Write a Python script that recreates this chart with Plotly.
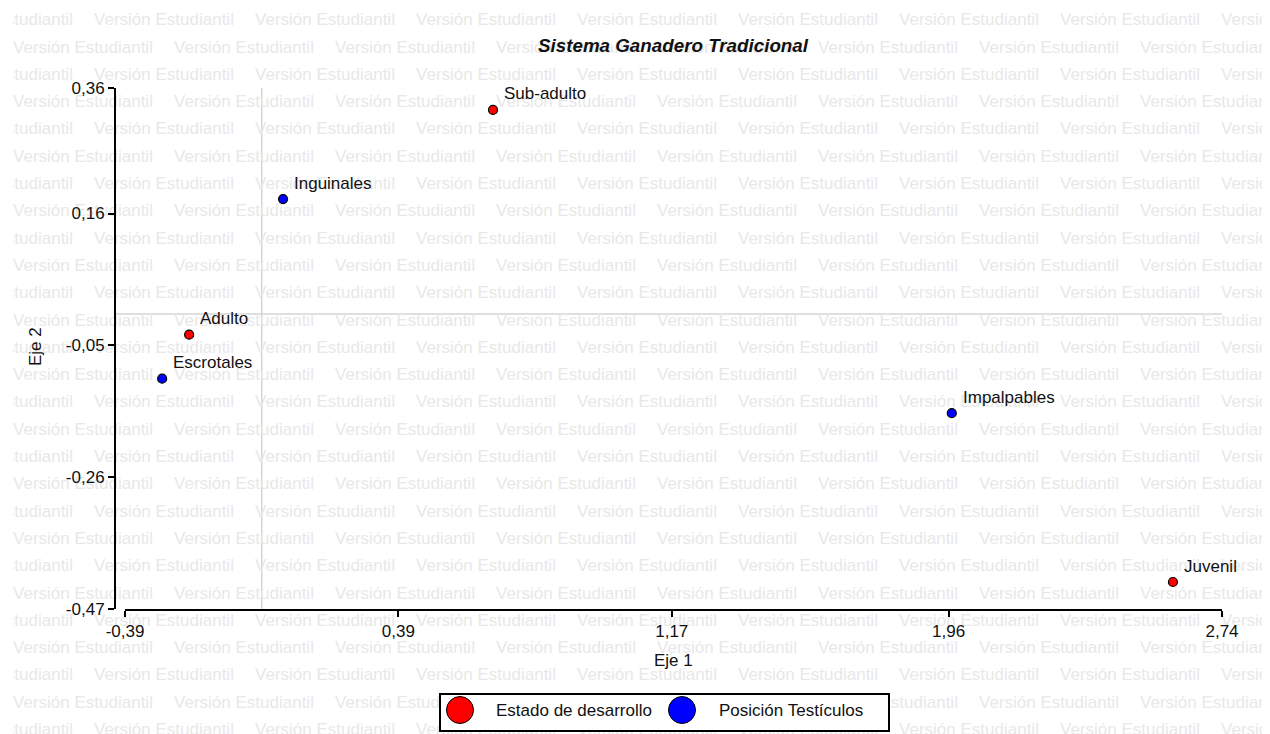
import plotly.graph_objects as go

# the page places the figure 8px in from the top-left corner
OFF = 8
W, H = 1270 - OFF, 734 - OFF

# correspondence analysis coordinates
estado_names = ["Sub-adulto", "Adulto", "Juvenil"]
estado_x = [0.66, -0.207, 2.60]
estado_y = [0.325, -0.033, -0.427]

posicion_names = ["Inguinales", "Escrotales", "Impalpables"]
posicion_x = [0.061, -0.284, 1.969]
posicion_y = [0.183, -0.103, -0.158]

x_ticks = [-0.39, 0.39, 1.17, 1.96, 2.74]
x_ticktext = ["-0,39", "0,39", "1,17", "1,96", "2,74"]
y_ticks = [-0.47, -0.26, -0.05, 0.16, 0.36]
y_ticktext = ["-0,47", "-0,26", "-0,05", "0,16", "0,36"]

series_names = ["Estado de desarrollo", "Posición Testículos"]
series_colors = ["#ff0000", "#0000ff"]

FONT = "Liberation Sans, Arial, sans-serif"
WM_TEXT = "Versión Estudiantil"
WM_LEFT = 13


def px(x):
    return (x - OFF) / W


def py(y):
    return 1 - (y - OFF) / H


# background watermark, placed in screen pixels on a full-figure subplot
wm_x, wm_y = [], []
for k in range(27):
    yy = 21 + 27.3 * k
    start = -67 if k % 2 == 0 else 13
    for j in range(9):
        wm_x.append(start + 161 * j + 70)
        wm_y.append(yy)

fig = go.Figure()
fig.add_trace(go.Scatter(
    x=wm_x, y=wm_y, text=[WM_TEXT] * len(wm_x), mode="text",
    textposition="middle center",
    textfont=dict(family=FONT, size=17, color="#e8e8e8"),
    hoverinfo="skip", showlegend=False, xaxis="x", yaxis="y",
))

for names, xs, ys, color, sname in [
    (estado_names, estado_x, estado_y, series_colors[0], series_names[0]),
    (posicion_names, posicion_x, posicion_y, series_colors[1], series_names[1]),
]:
    fig.add_trace(go.Scatter(
        x=xs, y=ys, mode="markers", name=sname, text=names,
        marker=dict(size=9, color=color, line=dict(color="black", width=1.2)),
        showlegend=False, xaxis="x2", yaxis="y2", cliponaxis=False,
    ))
    for n, xv, yv in zip(names, xs, ys):
        fig.add_annotation(
            x=xv, y=yv, xref="x2", yref="y2", text=n, showarrow=False,
            xanchor="left", yanchor="middle", xshift=9, yshift=16,
            font=dict(family=FONT, size=17, color="#111"),
        )

shapes = [
    # reference lines at the origin
    dict(type="line", xref="x2", yref="y2 domain", x0=0, x1=0, y0=0, y1=1,
         line=dict(color="#d4d4d4", width=1.5), layer="below"),
    dict(type="line", xref="paper", yref="y2", x0=px(115), x1=px(1222), y0=0, y1=0,
         line=dict(color="#d4d4d4", width=1.5), layer="below"),
    # legend box
    dict(type="rect", xref="paper", yref="paper", x0=px(440), x1=px(889),
         y0=py(731), y1=py(694), line=dict(color="black", width=2),
         fillcolor="white", layer="above"),
]
legend_cx = [460, 682]
legend_tx = [494, 717]
for cx, tx, color, sname in zip(legend_cx, legend_tx, series_colors, series_names):
    shapes.append(dict(type="circle", xref="paper", yref="paper",
                       x0=px(cx - 13.5), x1=px(cx + 13.5), y0=py(710 + 13.5), y1=py(710 - 13.5),
                       fillcolor=color, line=dict(color="black", width=1), layer="above"))
    fig.add_annotation(x=px(tx), y=py(710), xref="paper", yref="paper", text=sname,
                       showarrow=False, xanchor="left", yanchor="middle",
                       font=dict(family=FONT, size=17, color="#111"))

fig.add_annotation(x=px(673), y=py(660), xref="paper", yref="paper", text="Eje 1",
                   showarrow=False, xanchor="center", yanchor="middle",
                   font=dict(family=FONT, size=17, color="#111"))
fig.add_annotation(x=px(35), y=py(347), xref="paper", yref="paper", text="Eje 2",
                   showarrow=False, xanchor="center", yanchor="middle", textangle=-90,
                   font=dict(family=FONT, size=17, color="#111"))

axis_common = dict(showgrid=False, zeroline=False, showline=True, linecolor="black",
                   linewidth=2, ticks="outside", ticklen=6, tickwidth=2, tickcolor="black",
                   tickfont=dict(family=FONT, size=17, color="#111"), fixedrange=True,
                   automargin=False)

fig.update_layout(
    width=W, height=H, autosize=False,
    margin=dict(l=0, r=0, t=0, b=0, pad=0),
    paper_bgcolor="white", plot_bgcolor="rgba(0,0,0,0)",
    title=dict(text="<b><i>Sistema Ganadero Tradicional</i></b>", x=px(673), y=py(45),
               xanchor="center", yanchor="middle", xref="paper", yref="paper",
               automargin=False, font=dict(family=FONT, size=18.8, color="#111")),
    xaxis=dict(domain=[px(WM_LEFT), 1], range=[WM_LEFT, OFF + W], visible=False,
               fixedrange=True, automargin=False),
    yaxis=dict(domain=[0, 1], range=[OFF + H, OFF], visible=False, fixedrange=True,
               automargin=False),
    xaxis2=dict(domain=[px(125), px(1222)], range=[x_ticks[0], x_ticks[-1]], anchor="y2",
                tickvals=x_ticks, ticktext=x_ticktext, **axis_common),
    yaxis2=dict(domain=[py(609), py(88)], range=[y_ticks[0], y_ticks[-1]], anchor="free",
                position=px(115), tickvals=y_ticks, ticktext=y_ticktext, **axis_common),
    shapes=shapes,
    showlegend=False,
)

fig.write_html("out.html")
